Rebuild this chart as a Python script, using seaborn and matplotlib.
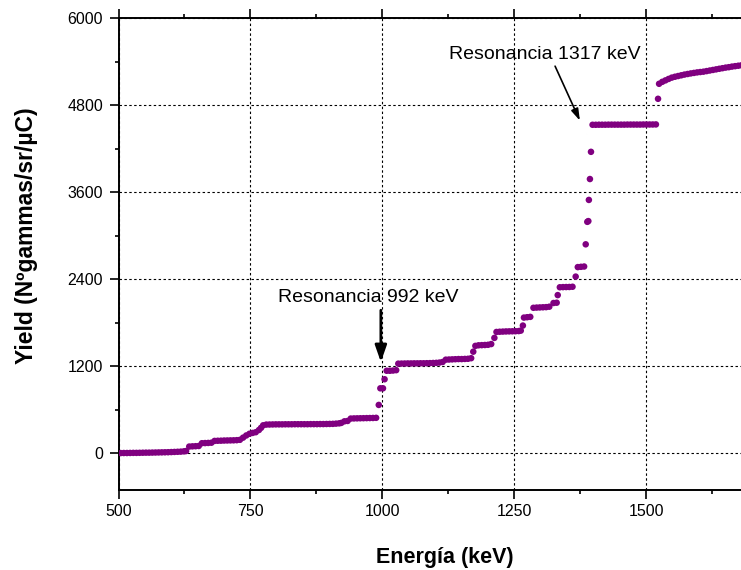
import matplotlib
matplotlib.use("Agg")
import matplotlib.pyplot as plt
import seaborn as sns
import pandas as pd
from matplotlib.ticker import MultipleLocator

# Beam energy scan (keV) and measured gamma yield (N gammas / sr / uC)
energy = [
    504, 510, 516, 522, 528, 534, 540, 546, 552, 558, 564, 570, 576, 582, 588,
    594, 600, 606, 612, 618, 624, 628,
    634, 640, 646, 652,
    658, 664, 670, 676,
    682, 688, 694, 700, 706, 712, 718, 724, 730,
    736, 742, 748, 754, 760, 766, 770, 774,
    780, 786, 792, 798, 804, 810, 816, 822, 828, 834, 840, 846, 852, 858, 864,
    870, 876, 882, 888, 894, 900, 906, 912, 918, 922,
    928, 934,
    940, 946, 952, 958, 964, 970, 976, 982, 988,
    993, 996, 1001, 1004,
    1008, 1014, 1020, 1026,
    1030, 1036, 1042, 1048, 1054, 1060, 1066, 1072, 1078, 1084, 1090, 1096,
    1102, 1108, 1114,
    1120, 1126, 1132, 1138, 1144, 1150, 1156, 1162, 1168,
    1172, 1176, 1182, 1188, 1194, 1200, 1206, 1212,
    1216, 1222, 1228, 1234, 1240, 1246, 1252, 1258, 1262,
    1266,
    1268, 1274, 1280,
    1286, 1292, 1298, 1304, 1310, 1316,
    1324, 1330,
    1332,
    1336, 1342, 1348, 1354, 1360,
    1366,
    1370, 1376, 1382,
    1385, 1388, 1390, 1391, 1393, 1395,
    1398, 1404, 1410, 1416, 1422, 1428, 1434, 1440, 1446, 1452, 1458, 1464,
    1470, 1476, 1482, 1488, 1494, 1500, 1506, 1512, 1518,
    1522,
    1524, 1530, 1536, 1542, 1548, 1554, 1560, 1566, 1572, 1578, 1584, 1590,
    1596, 1602, 1608, 1614, 1620, 1626, 1632, 1638, 1644, 1650, 1656, 1662,
    1668, 1674, 1680, 1686, 1692, 1698,
]
yield_ = [
    2, 3, 3, 4, 5, 5, 6, 7, 8, 8, 9, 10, 11, 12, 13,
    14, 16, 18, 20, 22, 26, 30,
    92, 95, 97, 100,
    138, 140, 142, 145,
    170, 172, 173, 175, 176, 177, 178, 180, 185,
    215, 245, 268, 280, 290, 320, 350, 385,
    395, 396, 397, 398, 398, 398, 399, 399, 399, 400, 400, 400, 400, 400, 401,
    401, 401, 402, 402, 403, 404, 405, 408, 412, 418,
    440, 445,
    478, 480, 481, 482, 483, 484, 485, 486, 488,
    666, 895, 895, 1020,
    1137, 1137, 1140, 1145,
    1235, 1236, 1237, 1238, 1238, 1239, 1239, 1240, 1240, 1241, 1242, 1244,
    1246, 1250, 1258,
    1290, 1292, 1294, 1296, 1298, 1298, 1300, 1302, 1310,
    1400, 1480, 1488, 1490, 1492, 1495, 1505, 1590,
    1672, 1675, 1677, 1679, 1680, 1681, 1682, 1684, 1690,
    1760,
    1870, 1875, 1880,
    2005, 2008, 2010, 2012, 2014, 2020,
    2071, 2075,
    2180,
    2288, 2290, 2291, 2292, 2295,
    2435,
    2566, 2570, 2574,
    2880, 3190, 3200, 3492, 3780, 4155,
    4528, 4528, 4529, 4529, 4529, 4530, 4530, 4530, 4530, 4530, 4530, 4531,
    4531, 4531, 4531, 4531, 4532, 4532, 4532, 4532, 4533,
    4886,
    5093, 5120, 5140, 5160, 5178, 5190, 5200, 5210, 5220, 5228, 5236, 5243,
    5250, 5255, 5260, 5268, 5276, 5284, 5292, 5300, 5308, 5316, 5322, 5330,
    5336, 5342, 5348, 5352, 5356, 5360,
]

x_ticks = [500, 750, 1000, 1250, 1500]
y_ticks = [0, 1200, 2400, 3600, 4800, 6000]

df = pd.DataFrame({"Energia": energy, "Yield": yield_})

sns.set_style("ticks")
plt.rcParams["font.family"] = ["Liberation Sans", "DejaVu Sans"]
plt.rcParams["text.color"] = "black"
plt.rcParams["axes.labelcolor"] = "black"

W, H = 741, 570
left_px, right_px, top_px, bottom_px = 118.5, 752.0, 18.0, 489.5

fig = plt.figure(figsize=(W / 100, H / 100), dpi=100)
ax = fig.add_axes([left_px / W, 1 - bottom_px / H,
                   (right_px - left_px) / W, (bottom_px - top_px) / H])

sns.scatterplot(data=df, x="Energia", y="Yield", ax=ax, color="#800080",
                s=22, linewidth=0, edgecolor="none", zorder=3)

ax.set_xlim(500, 1700)
ax.set_ylim(-500, 6000)
ax.set_xticks(x_ticks)
ax.set_yticks(y_ticks)
ax.xaxis.set_minor_locator(MultipleLocator(125))
ax.yaxis.set_minor_locator(MultipleLocator(600))

ax.grid(True, which="major", color="black", linestyle=(0, (2.2, 2.2)),
        linewidth=0.8)

for side in ["left", "bottom", "top"]:
    ax.spines[side].set_visible(True)
    ax.spines[side].set_linewidth(1.4)
    ax.spines[side].set_color("black")
ax.spines["right"].set_visible(False)

ax.tick_params(which="major", direction="out", length=6.5, width=1.2,
               labelsize=11.5, top=True, bottom=True, left=True, right=False,
               labeltop=False, colors="black", labelcolor="black")
ax.tick_params(axis="y", which="major", pad=4.5)
ax.tick_params(axis="x", which="major", pad=4)
ax.tick_params(which="minor", direction="out", length=3, width=1.2,
               top=True, bottom=True, left=True, right=False, colors="black")

ax.set_xlabel("Energía (keV)", fontsize=15.5, fontweight="bold")
ax.set_ylabel("Yield (Nºgammas/sr/µC)", fontsize=16.5, fontweight="bold")
ax.xaxis.label.set_va("center")
ax.yaxis.label.set_va("center")
ax.xaxis.set_label_coords((445 - left_px) / (right_px - left_px),
                          -(557 - bottom_px) / (bottom_px - top_px))
ax.yaxis.set_label_coords(-(left_px - 26) / (right_px - left_px),
                          (bottom_px - 236) / (bottom_px - top_px))

# Resonance markers
ax.annotate("", xy=(997, 1257), xytext=(997, 1971),
            arrowprops=dict(arrowstyle="-|>,head_width=0.35,head_length=1.0",
                            color="black", lw=2.0, shrinkA=0, shrinkB=0))
ax.text(973, 2150, "Resonancia 992 keV", ha="center", va="center",
        fontsize=14, color="black")

ax.annotate("", xy=(1374, 4585), xytext=(1327, 5336),
            arrowprops=dict(arrowstyle="-|>,head_width=0.22,head_length=0.7",
                            color="black", lw=1.2, shrinkA=0, shrinkB=0))
ax.text(1308, 5500, "Resonancia 1317 keV", ha="center", va="center",
        fontsize=14, color="black")

fig.savefig("out.png", dpi=100)
